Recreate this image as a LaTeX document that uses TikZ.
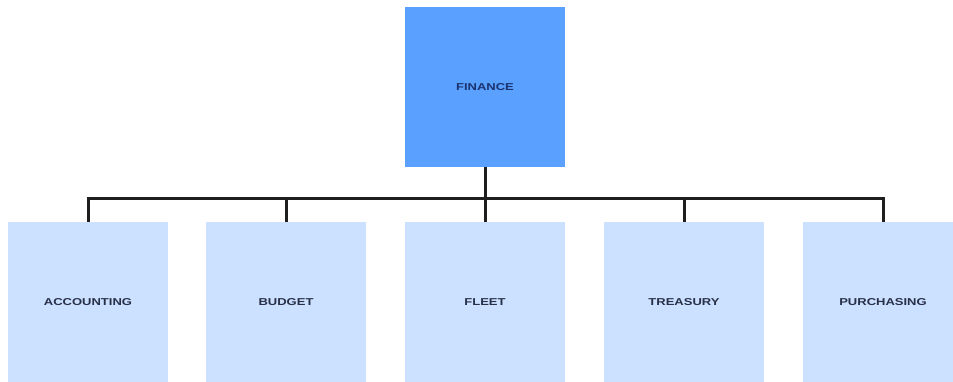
\documentclass[tikz,border=0pt]{standalone}
\usepackage{fontspec}
\setmainfont{Liberation Sans}
\definecolor{topfill}{RGB}{90,160,255}
\definecolor{subfill}{RGB}{204,224,255}
\definecolor{toptext}{RGB}{26,50,110}
\definecolor{subtext}{RGB}{40,48,72}
\definecolor{linec}{RGB}{30,30,30}
\tikzset{
  topbox/.style={fill=topfill, minimum width=160pt, minimum height=160pt, inner sep=0pt, text=toptext, font=\fontsize{10}{12}\selectfont\bfseries},
  subbox/.style={fill=subfill, minimum width=160pt, minimum height=160pt, inner sep=0pt, text=subtext, font=\fontsize{10}{12}\selectfont\bfseries},
  link/.style={draw=linec, line width=3pt}
}
\newcommand{\wtxt}[1]{\scalebox{1.3}[1]{#1}}
\begin{document}
\begin{tikzpicture}[x=1pt,y=1pt]
\useasboundingbox (0,0) rectangle (953,-381);
\fill[white] (0,0) rectangle (953,-381);
\node[topbox] (fin) at (485,-87) {\wtxt{FINANCE}};
\node[subbox] (acc) at (88,-302) {\wtxt{ACCOUNTING}};
\node[subbox] (bud) at (286,-302) {\wtxt{BUDGET}};
\node[subbox] (fle) at (485,-302) {\wtxt{FLEET}};
\node[subbox] (tre) at (684,-302) {\wtxt{TREASURY}};
\node[subbox] (pur) at (883,-302) {\wtxt{PURCHASING}};
\coordinate (bus) at (485,-198);
\draw[link] (fin.south) -- (fle.north);
\draw[link, line join=miter] (acc.north) |- (bus) -| (pur.north);
\draw[link] (bud.north) -- (bud.north |- bus);
\draw[link] (tre.north) -- (tre.north |- bus);
\end{tikzpicture}
\end{document}
